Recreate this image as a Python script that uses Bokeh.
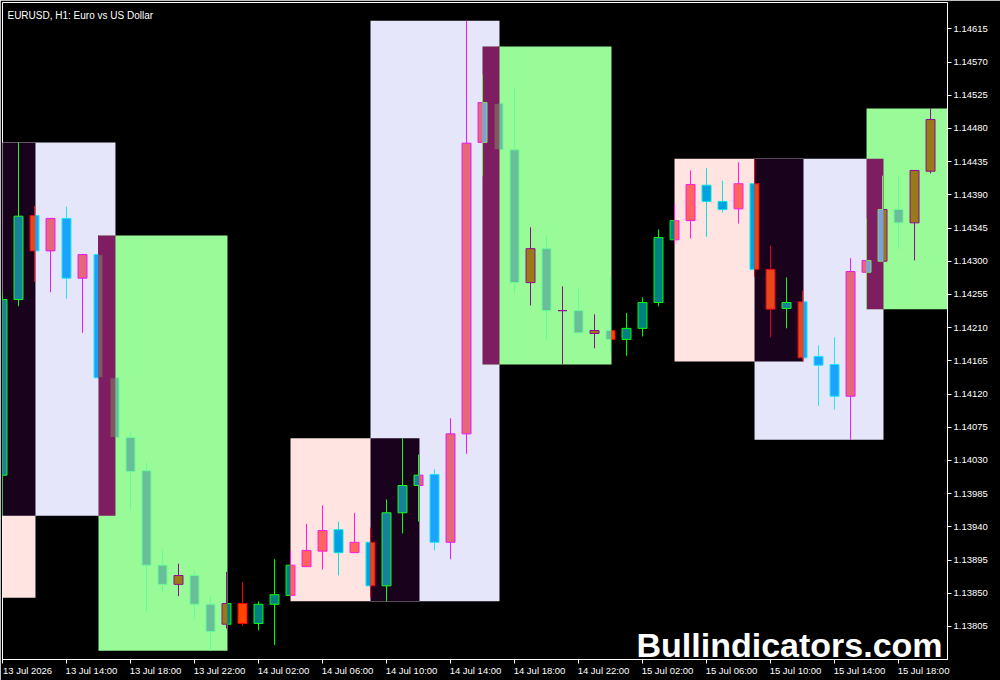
from bokeh.plotting import figure
from bokeh.models import Range1d, FixedTicker, PrintfTickFormatter, Label, ColumnDataSource
from bokeh.embed import file_html
from bokeh.resources import INLINE

# ---- hourly EURUSD bars (index 0 = 13 Jul 10:00) ----
bar_open = [1.14010, 1.14248, 1.14362, 1.14314, 1.14358, 1.14277, 1.14309, 1.14142, 1.14061, 1.14016,
            1.13888, 1.13862, 1.13874, 1.13835, 1.13808, 1.13836, 1.13809, 1.13835, 1.13847, 1.13886,
            1.13907, 1.13936, 1.13905, 1.13919, 1.13860, 1.13959, 1.13996, 1.14011, 1.13919, 1.14066,
            1.14461, 1.14514, 1.14451, 1.14271, 1.14317, 1.14233, 1.14233, 1.14202, 1.14206, 1.14194,
            1.14209, 1.14244, 1.14329, 1.14355, 1.14403, 1.14381, 1.14371, 1.14405, 1.14289, 1.14236,
            1.14245, 1.14171, 1.14160, 1.14117, 1.14285, 1.14300, 1.14370, 1.14352, 1.14422]
bar_high = [1.14260, 1.14461, 1.14375, 1.14358, 1.14374, 1.14310, 1.14335, 1.14142, 1.14068, 1.14027,
            1.13909, 1.13890, 1.13881, 1.13846, 1.13879, 1.13865, 1.13839, 1.13896, 1.13908, 1.13944,
            1.13969, 1.13947, 1.13959, 1.13939, 1.13977, 1.14060, 1.14038, 1.14018, 1.14087, 1.14626,
            1.14553, 1.14591, 1.14535, 1.14346, 1.14335, 1.14266, 1.14263, 1.14228, 1.14278, 1.14230,
            1.14251, 1.14343, 1.14377, 1.14423, 1.14426, 1.14409, 1.14434, 1.14439, 1.14321, 1.14278,
            1.14260, 1.14186, 1.14197, 1.14304, 1.14358, 1.14416, 1.14416, 1.14423, 1.14507]
bar_low = [1.13955, 1.14239, 1.14272, 1.14258, 1.14249, 1.14203, 1.14142, 1.14061, 1.13963, 1.13825,
           1.13852, 1.13846, 1.13816, 1.13772, 1.13802, 1.13806, 1.13800, 1.13780, 1.13846, 1.13886,
           1.13882, 1.13874, 1.13905, 1.13844, 1.13839, 1.13931, 1.13947, 1.13908, 1.13896, 1.14039,
           1.14415, 1.14443, 1.14256, 1.14240, 1.14193, 1.14160, 1.14202, 1.14182, 1.14175, 1.14172,
           1.14198, 1.14239, 1.14323, 1.14331, 1.14333, 1.14366, 1.14351, 1.14279, 1.14197, 1.14209,
           1.14164, 1.14104, 1.14099, 1.14058, 1.14235, 1.14300, 1.14316, 1.14301, 1.14419]
bar_close = [1.14248, 1.14361, 1.14314, 1.14358, 1.14277, 1.14309, 1.14142, 1.14061, 1.14015, 1.13888,
             1.13862, 1.13874, 1.13835, 1.13798, 1.13836, 1.13809, 1.13835, 1.13848, 1.13888, 1.13908,
             1.13935, 1.13905, 1.13919, 1.13860, 1.13959, 1.13996, 1.14010, 1.13919, 1.14066, 1.14460,
             1.14515, 1.14451, 1.14271, 1.14317, 1.14233, 1.14233, 1.14203, 1.14206, 1.14194, 1.14209,
             1.14244, 1.14332, 1.14355, 1.14404, 1.14381, 1.14370, 1.14405, 1.14289, 1.14235, 1.14244,
             1.14169, 1.14159, 1.14117, 1.14286, 1.14301, 1.14370, 1.14352, 1.14423, 1.14492]

# ---- session boxes (bar index start/end, price top/bottom) ----
box_start = [-6, -1, 6, 18, 23, 30, 42, 47, 54]
box_end = [2, 7, 14, 26, 31, 38, 50, 55, 62]
box_top = [1.14461, 1.14461, 1.14335, 1.14060, 1.14626, 1.14591, 1.14439, 1.14439, 1.14507]
box_bottom = [1.13844, 1.13955, 1.13772, 1.13839, 1.13839, 1.14160, 1.14164, 1.14058, 1.14235]
box_color = ["#FFE4E1", "#E6E6FA", "#98FB98", "#FFE4E1", "#E6E6FA", "#98FB98",
             "#FFE4E1", "#E6E6FA", "#98FB98"]

# ---- axis ticks ----
x_tick_bars = [0, 4, 8, 12, 16, 20, 24, 28, 32, 36, 40, 44, 48, 52, 56]
x_tick_labels = ["13 Jul 2026", "13 Jul 14:00", "13 Jul 18:00", "13 Jul 22:00", "14 Jul 02:00",
                 "14 Jul 06:00", "14 Jul 10:00", "14 Jul 14:00", "14 Jul 18:00", "14 Jul 22:00",
                 "15 Jul 02:00", "15 Jul 06:00", "15 Jul 10:00", "15 Jul 14:00", "15 Jul 18:00"]
y_ticks = [1.13805, 1.13850, 1.13895, 1.13940, 1.13985, 1.14030, 1.14075, 1.14120, 1.14165,
           1.14210, 1.14255, 1.14300, 1.14345, 1.14390, 1.14435, 1.14480, 1.14525, 1.14570, 1.14615]

UP_FILL, UP_LINE, DN_FILL, DN_LINE = 0x008080, 0x00FF00, 0xFF4500, 0xFF0000
BODY_HALF = 0.28
EDGE_PAD = 0.06
LABEL_SHIFT = 1.5625  # half a time label, in bars, so labels start at their tick

boxes = [dict(x0=s, x1=e + EDGE_PAD, y0=b, y1=t, c=int(col[1:], 16))
         for s, e, t, b, col in zip(box_start, box_end, box_top, box_bottom, box_color)]


def hexc(v):
    return "#%06X" % v


def bg_at(x, y):
    v = 0
    for b in boxes:
        if b["x0"] <= x <= b["x1"] and b["y0"] <= y <= b["y1"]:
            v ^= b["c"]
    return v


def ov(a0, a1, b0, b1):
    if a0 == a1:
        return b0 <= a1 and b1 >= a0
    return b0 < a1 and b1 > a0


def pieces(x0, x1, y0, y1):
    xs = {x0, x1}
    for b in boxes:
        if ov(y0, y1, b["y0"], b["y1"]):
            for e in (b["x0"], b["x1"]):
                if x0 < e < x1:
                    xs.add(e)
    xs = sorted(xs)
    cols = [(x0, x1)] if x0 == x1 else list(zip(xs[:-1], xs[1:]))
    out = []
    for a, c in cols:
        ys = {y0, y1}
        for b in boxes:
            if ov(a, c, b["x0"], b["x1"]):
                for e in (b["y0"], b["y1"]):
                    if y0 < e < y1:
                        ys.add(e)
        ys = sorted(ys)
        rows = [(y0, y1)] if y0 == y1 else list(zip(ys[:-1], ys[1:]))
        merged = []
        for r0, r1 in rows:
            g = bg_at((a + c) / 2, (r0 + r1) / 2)
            if merged and merged[-1][4] == g:
                merged[-1][3] = r1
            else:
                merged.append([a, c, r0, r1, g])
        out.extend(merged)
    return out


# background boxes and XOR overlaps
bx = dict(left=[], right=[], bottom=[], top=[], color=[])
for b in boxes:
    bx["left"].append(b["x0"]); bx["right"].append(b["x1"])
    bx["bottom"].append(b["y0"]); bx["top"].append(b["y1"]); bx["color"].append(hexc(b["c"]))
for i in range(len(boxes)):
    for j in range(i + 1, len(boxes)):
        a, b = boxes[i], boxes[j]
        l, r = max(a["x0"], b["x0"]), min(a["x1"], b["x1"])
        bo, t = max(a["y0"], b["y0"]), min(a["y1"], b["y1"])
        if r > l and t > bo:
            bx["left"].append(l); bx["right"].append(r)
            bx["bottom"].append(bo); bx["top"].append(t); bx["color"].append(hexc(a["c"] ^ b["c"]))

wick = dict(x0=[], x1=[], y0=[], y1=[], color=[])
body = dict(left=[], right=[], bottom=[], top=[], color=[])
edge = dict(x0=[], x1=[], y0=[], y1=[], color=[])

for k in range(len(bar_open)):
    o, h, lo, c = bar_open[k], bar_high[k], bar_low[k], bar_close[k]
    up = c >= o
    fc = UP_FILL if up else DN_FILL
    lc = UP_LINE if up else DN_LINE
    for a, cc, r0, r1, g in pieces(k, k, lo, h):
        wick["x0"].append(a); wick["x1"].append(cc)
        wick["y0"].append(r0); wick["y1"].append(r1); wick["color"].append(hexc(lc ^ g))
    top, bot = max(o, c), min(o, c)
    xl, xr = k - BODY_HALF, k + BODY_HALF
    if top > bot:
        for a, cc, r0, r1, g in pieces(xl, xr, bot, top):
            body["left"].append(a); body["right"].append(cc)
            body["bottom"].append(r0); body["top"].append(r1); body["color"].append(hexc(fc ^ g))
    for (ex0, ex1, ey0, ey1) in [(xl, xr, top, top), (xl, xr, bot, bot), (xl, xl, bot, top), (xr, xr, bot, top)]:
        for a, cc, r0, r1, g in pieces(ex0, ex1, ey0, ey1):
            edge["x0"].append(a); edge["x1"].append(cc)
            edge["y0"].append(r0); edge["y1"].append(r1); edge["color"].append(hexc(lc ^ g))

p = figure(width=1000, height=680, x_range=Range1d(0, 59.06), y_range=Range1d(1.1376015, 1.1465065),
           output_backend="svg", toolbar_location=None, y_axis_location="right",
           background_fill_color="black", border_fill_color="black",
           min_border_left=2, min_border_top=2, min_border_right=53, min_border_bottom=21)
p.outline_line_color = "white"
p.outline_line_width = 1
p.grid.visible = False

p.quad(left="left", right="right", bottom="bottom", top="top", fill_color="color", line_color=None,
       source=ColumnDataSource(bx))
p.segment(x0="x0", y0="y0", x1="x1", y1="y1", line_color="color", line_width=1,
          source=ColumnDataSource(wick))
p.quad(left="left", right="right", bottom="bottom", top="top", fill_color="color", line_color=None,
       source=ColumnDataSource(body))
p.segment(x0="x0", y0="y0", x1="x1", y1="y1", line_color="color", line_width=1,
          source=ColumnDataSource(edge))

AX_FONT = "Liberation Sans"
for ax in (p.xaxis[0], p.yaxis[0]):
    ax.axis_line_color = "white"
    ax.major_label_text_color = "white"
    ax.major_label_text_font = AX_FONT
    ax.major_label_text_font_size = "9.5px"

p.yaxis.ticker = FixedTicker(ticks=y_ticks)
p.yaxis.formatter = PrintfTickFormatter(format="%.5f")
p.yaxis.major_label_standoff = 2
p.yaxis.major_tick_line_color = "white"
p.yaxis.major_tick_out = 4
p.yaxis.major_tick_in = 0
p.yaxis.minor_tick_line_color = None

# time axis: tick marks are drawn as "minor" ticks at the bar positions,
# labels sit at shifted major positions so that they start at their tick
shifted = [t + LABEL_SHIFT for t in x_tick_bars]
xa = p.xaxis[0]
xa.ticker = FixedTicker(ticks=shifted, minor_ticks=x_tick_bars)
xa.major_label_overrides = {s: lab for s, lab in zip(shifted, x_tick_labels)}
xa.major_tick_line_color = None
xa.major_tick_out = 4
xa.major_tick_in = 0
xa.minor_tick_line_color = "white"
xa.minor_tick_out = 4
xa.minor_tick_in = 0
xa.major_label_standoff = 1

p.add_layout(Label(x=0.31, y=1.14633, text="EURUSD, H1:  Euro vs US Dollar", text_color="white",
                   text_font=AX_FONT, text_font_size="10px", text_baseline="alphabetic"))
p.add_layout(Label(x=58.75, y=1.13805, text="Bullindicators.com", text_color="white",
                   text_font="Liberation Sans", text_font_style="bold", text_font_size="34px",
                   text_align="right", text_baseline="top"))

open("out.html", "w").write(file_html(p, INLINE))
